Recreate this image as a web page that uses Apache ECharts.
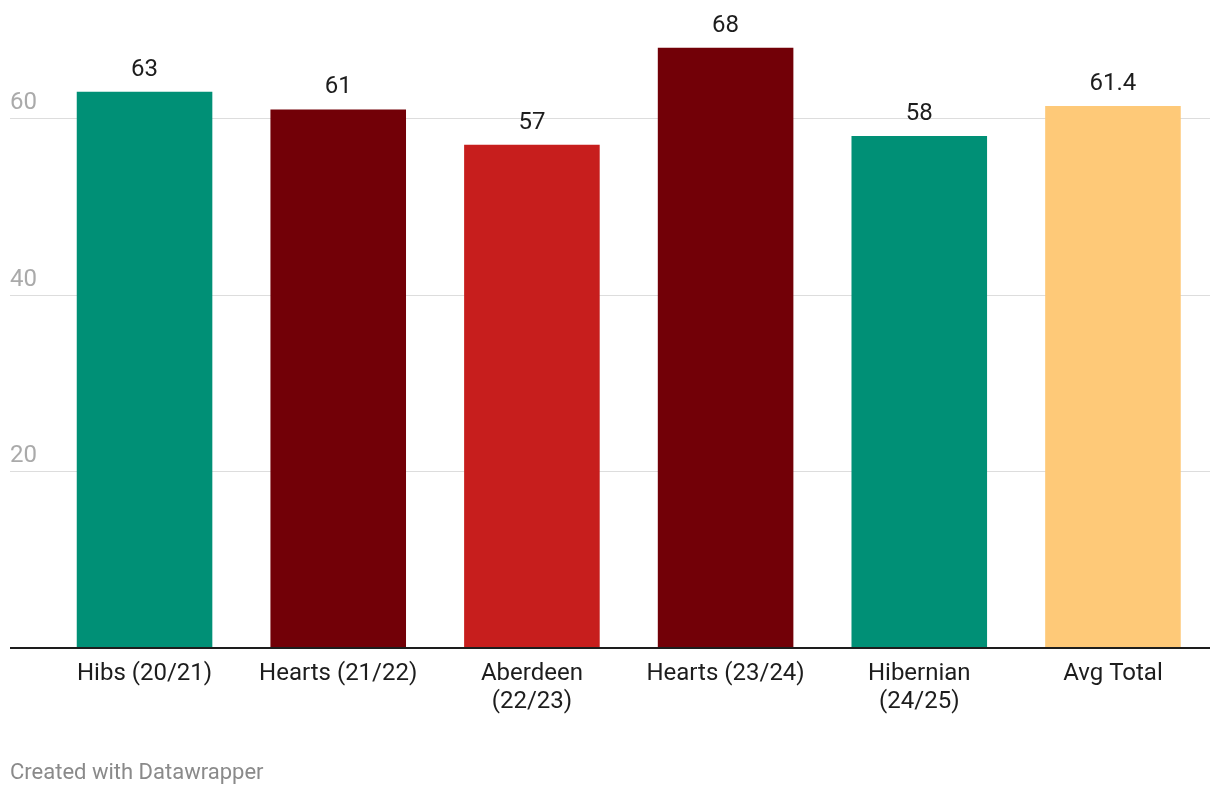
<!DOCTYPE html>
<html>
<head>
<meta charset="utf-8">
<style>
html,body{margin:0;padding:0;background:#fff;}
#chart{width:1220px;height:796px;}
</style>
<script src="https://cdn.jsdelivr.net/npm/echarts@6/dist/echarts.min.js"></script>
</head>
<body>
<div id="chart"></div>
<script>
var categories = ['Hibs (20/21)', 'Hearts (21/22)', 'Aberdeen\n(22/23)', 'Hearts (23/24)', 'Hibernian\n(24/25)', 'Avg Total'];
var values = [63, 61, 57, 68, 58, 61.4];
var barColors = ['#009076', '#720007', '#c71e1d', '#720007', '#009076', '#fec978'];
var yTicks = [0, 20, 40, 60];

var chart = echarts.init(document.getElementById('chart'));
var font = 'Roboto, "Noto Sans", sans-serif';
chart.setOption({
  animation: false,
  backgroundColor: '#ffffff',
  textStyle: { fontFamily: font },
  grid: [
    { left: 10, right: 10, top: 30, bottom: 148 },
    { left: 47.7, right: 10.2, top: 30, bottom: 148 }
  ],
  xAxis: [
    { type: 'value', gridIndex: 0, min: 0, max: 1, show: true,
      axisLabel: { show: false }, axisTick: { show: false }, splitLine: { show: false },
      axisLine: { show: false } },
    { type: 'category', gridIndex: 1, data: categories,
      axisLine: { show: false }, axisTick: { show: false },
      axisLabel: { color: '#1d1d1d', fontSize: 24, lineHeight: 28, margin: 12, fontFamily: font, interval: 0 } }
  ],
  yAxis: [
    { type: 'value', gridIndex: 0, min: 0, max: 70, interval: 20,
      axisLine: { show: false },
      axisTick: { show: false },
      splitLine: { show: true, showMaxLine: false, lineStyle: { color: '#dddddd', width: 1 } },
      axisLabel: { show: true, inside: true, showMinLabel: false, showMaxLabel: false,
        color: '#aaaaaa', fontSize: 24, fontFamily: font, verticalAlign: 'bottom', align: 'left',
        padding: [0, 0, 3, 0], margin: 0,
        formatter: function (v) { return yTicks.indexOf(v) >= 0 ? String(v) : ''; } } },
    { type: 'value', gridIndex: 1, min: 0, max: 70, interval: 20, show: false,
      splitLine: { show: false } }
  ],
  series: [
    { type: 'line', xAxisIndex: 0, yAxisIndex: 0, data: [], silent: true },
    { type: 'bar', xAxisIndex: 1, yAxisIndex: 1, barWidth: '70%',
      data: values.map(function (v, i) { return { value: v, itemStyle: { color: barColors[i] } }; }),
      label: { show: true, position: 'top', distance: 10, color: '#1d1d1d', fontSize: 24, fontFamily: font,
        formatter: function (p) { return String(p.value); } } }
  ],
  graphic: [
    { type: 'line', shape: { x1: 10, y1: 648, x2: 1210, y2: 648 }, style: { stroke: '#1d1d1d', lineWidth: 2 }, z: 10 },
    { type: 'text', left: 10, top: 762, style: { text: 'Created with Datawrapper', fill: '#8a8a8a', fontSize: 22, fontFamily: font } }
  ]
});
</script>
</body>
</html>
